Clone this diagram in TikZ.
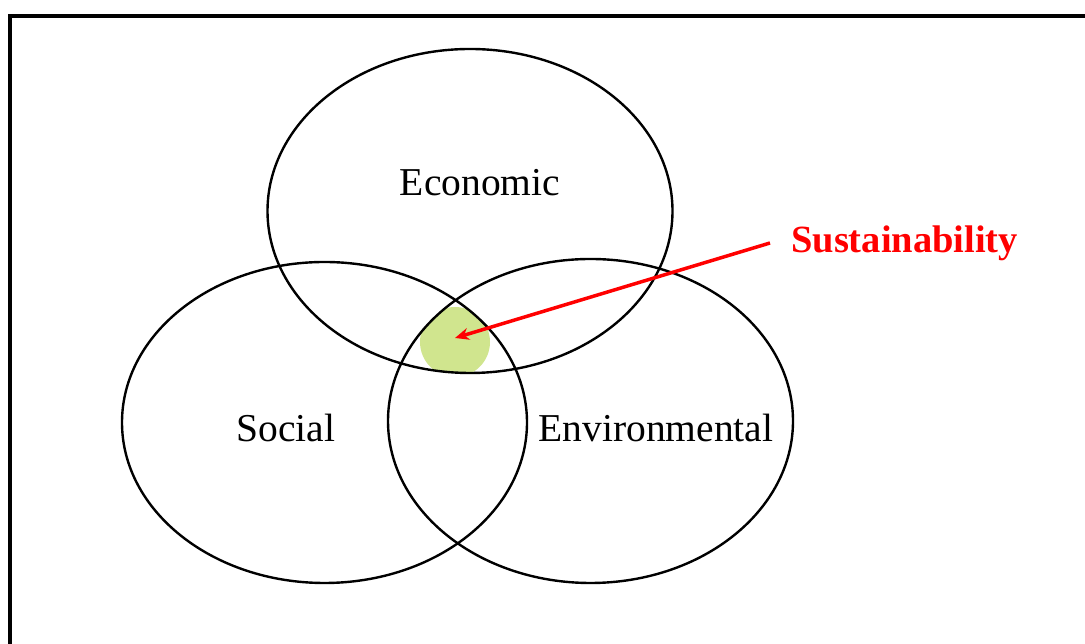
\documentclass[tikz,border=0pt]{standalone}
\usepackage{fontspec}
\setmainfont{Liberation Serif}
\usetikzlibrary{arrows.meta}
\definecolor{spotgreen}{RGB}{208,229,142}
\definecolor{arrowred}{RGB}{255,0,0}
\tikzset{
  circ/.style={draw=black, line width=2.4pt},
  lbl/.style={font=\fontsize{39.5}{42}\selectfont, inner sep=0pt},
}
\begin{document}
\begin{tikzpicture}[x=1pt,y=1pt]
\useasboundingbox (0,0) rectangle (1085,644);
\fill[white] (0,0) rectangle (1085,644);
% frame (cut off at right and bottom)
\draw[line width=4pt] (10,-10) -- (10,628) -- (1095,628);
% green spot in the triple intersection
\begin{scope}
  \clip (470,433) ellipse [x radius=202.5, y radius=162];
  \clip (324.5,221.5) ellipse [x radius=202.5, y radius=160.5];
  \clip (590.5,223) ellipse [x radius=202.5, y radius=162];
  \fill[spotgreen] (455,302) circle [radius=35];
\end{scope}
% circles
\draw[circ] (470,433) ellipse [x radius=202.5, y radius=162];
\draw[circ] (324.5,221.5) ellipse [x radius=202.5, y radius=160.5];
\draw[circ] (590.5,223) ellipse [x radius=202.5, y radius=162];
% labels
\node[lbl] (eco) at (480,461) {Economic};
\node[lbl] (soc) at (286,216) {Social};
\node[lbl] (env) at (656,216) {Environmental};
\node[lbl, text=arrowred, font=\fontsize{38.5}{42}\selectfont\bfseries, anchor=west] (sus) at (791,401) {Sustainability};
\coordinate (tip) at (455,306);
\draw[arrowred, line width=3.5pt, -{Stealth[length=14pt,width=12pt]}] (sus.west) ++(-21,0) -- (tip);
\end{tikzpicture}
\end{document}
